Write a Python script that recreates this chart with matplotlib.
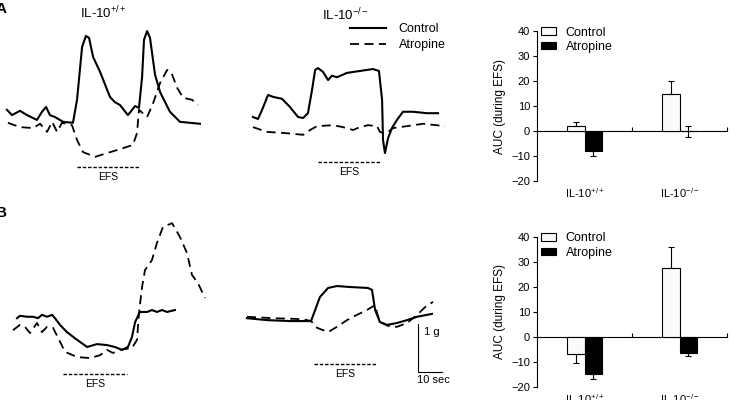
import numpy as np
import matplotlib
matplotlib.use('Agg')
import matplotlib.pyplot as plt
from matplotlib.lines import Line2D

plt.rcParams['font.family'] = ['Liberation Sans', 'DejaVu Sans']
plt.rcParams['mathtext.fontset'] = 'custom'
plt.rcParams['mathtext.rm'] = 'Liberation Sans'
plt.rcParams['mathtext.it'] = 'Liberation Sans:italic'

WT = r'IL-10$^{+/+}$'
KO = r'IL-10$^{-/-}$'

# ---- traces (time in s, tension in g) ----
a1_ctl_t = [2.9, 5.0, 8.3, 11.3, 15.4, 17.5, 19.2, 20.8, 22.9, 26.3, 30.4, 32.1, 34.2, 35.8, 37.1,
            38.8, 41.7, 45.8, 47.9, 50.0, 53.3, 56.3, 57.9, 59.2, 60.0, 61.3, 62.5, 64.6, 66.7,
            70.8, 75.0, 83.3]
a1_ctl_g = [1.67, 1.56, 1.65, 1.56, 1.46, 1.63, 1.73, 1.56, 1.52, 1.42, 1.40, 1.88, 2.98, 3.21, 3.17,
            2.77, 2.46, 1.94, 1.83, 1.77, 1.56, 1.75, 1.71, 2.35, 3.13, 3.31, 3.17, 2.40, 2.04,
            1.63, 1.42, 1.38]
a1_atr_t = [3.3, 8.3, 13.8, 16.7, 19.6, 21.7, 23.8, 25.8, 30.0, 32.1, 34.6, 39.6, 44.6, 50.0, 55.4,
            57.1, 57.9, 61.3, 63.8, 66.7, 69.6, 71.3, 73.8, 76.3, 80.0, 82.5]
a1_atr_g = [1.40, 1.31, 1.29, 1.38, 1.21, 1.42, 1.21, 1.40, 1.35, 1.04, 0.79, 0.69, 0.77, 0.85, 0.94,
            1.19, 1.67, 1.52, 1.81, 2.23, 2.50, 2.46, 2.13, 1.92, 1.88, 1.77]

a2_ctl_t = [5.4, 7.5, 9.2, 11.7, 13.8, 17.5, 20.8, 24.2, 26.3, 28.3, 30.0, 31.3, 32.5, 34.6, 36.7,
            38.3, 40.4, 44.6, 50.0, 55.4, 57.9, 59.2, 59.6, 60.4, 61.7, 63.3, 65.4, 67.9, 72.1,
            77.9, 82.5]
a2_ctl_g = [1.52, 1.48, 1.67, 1.98, 1.94, 1.90, 1.73, 1.52, 1.50, 1.60, 2.08, 2.50, 2.54, 2.46, 2.29,
            2.38, 2.35, 2.44, 2.48, 2.52, 2.48, 1.88, 1.04, 0.77, 1.08, 1.29, 1.46, 1.63, 1.63,
            1.60, 1.60]
a2_atr_t = [5.4, 11.3, 17.9, 26.3, 29.2, 32.1, 38.8, 42.9, 47.1, 50.0, 53.3, 57.1, 58.3, 59.6, 61.7,
            63.8, 69.6, 76.3, 85.4]
a2_atr_g = [1.31, 1.21, 1.19, 1.15, 1.25, 1.33, 1.35, 1.31, 1.25, 1.31, 1.35, 1.33, 1.21, 1.19, 1.21,
            1.29, 1.33, 1.38, 1.33]

b1_ctl_t = [7.1, 8.3, 11.3, 13.8, 15.8, 17.5, 19.6, 21.7, 22.9, 25.0, 27.9, 32.1, 36.3, 40.4, 44.6,
            47.9, 50.8, 53.3, 55.0, 56.3, 58.3, 61.3, 63.3, 65.4, 67.5, 69.6, 72.9]
b1_ctl_g = [1.60, 1.65, 1.63, 1.63, 1.60, 1.67, 1.63, 1.67, 1.60, 1.46, 1.31, 1.15, 1.00, 1.06, 1.04,
            1.00, 0.94, 1.00, 1.21, 1.52, 1.73, 1.73, 1.77, 1.73, 1.77, 1.73, 1.77]
b1_atr_t = [5.4, 8.3, 10.4, 12.5, 15.4, 17.5, 19.6, 22.1, 24.2, 27.1, 32.1, 37.5, 41.7, 44.6, 47.1,
            50.0, 55.0, 57.1, 57.9, 59.2, 60.4, 63.3, 65.4, 67.9, 71.7, 75.0, 77.9, 80.0, 82.5, 85.4]
b1_atr_g = [1.35, 1.46, 1.42, 1.29, 1.50, 1.31, 1.42, 1.40, 1.19, 0.90, 0.79, 0.77, 0.83, 0.94, 0.875,
            0.94, 0.98, 1.15, 1.71, 2.25, 2.60, 2.81, 3.17, 3.50, 3.58, 3.29, 2.96, 2.50, 2.33, 2.02]

b2_ctl_t = [2.9, 11.3, 20.8, 29.6, 31.3, 33.3, 36.7, 40.4, 45.8, 53.3, 55.0, 56.3, 58.3, 61.3, 65.4,
            69.6, 73.8, 80.0]
b2_ctl_g = [1.60, 1.56, 1.54, 1.54, 1.77, 2.04, 2.23, 2.27, 2.25, 2.23, 2.19, 1.77, 1.52, 1.46, 1.50,
            1.56, 1.63, 1.69]
b2_atr_t = [2.9, 13.8, 26.3, 29.6, 32.1, 36.7, 40.4, 44.6, 48.75, 52.9, 56.3, 57.1, 58.3, 61.7, 65.4,
            69.6, 73.8, 77.1, 80.4]
b2_atr_g = [1.63, 1.60, 1.58, 1.54, 1.40, 1.31, 1.42, 1.56, 1.67, 1.77, 1.875, 1.71, 1.52, 1.44, 1.42,
            1.50, 1.67, 1.83, 1.94]

# EFS stimulation window (s)
a1_efs = [32.1, 58.3]
a2_efs = [32.5, 58.3]
b1_efs = [26.3, 52.9]
b2_efs = [30.8, 57.1]

# ---- AUC bars ----
groups = [WT, KO]
a_ctrl, a_ctrl_sem = [2.1, 14.7], [1.5, 5.4]
a_atr, a_atr_sem = [-8.0, 0.0], [1.9, 2.2]
b_ctrl, b_ctrl_sem = [-7.1, 27.3], [3.6, 8.4]
b_atr, b_atr_sem = [-14.9, -6.4], [2.2, 1.3]

PX_S, PX_G = 2.4, 48.0   # pixels per second / per gram at 100 dpi

fig = plt.figure(figsize=(7.31, 4.0), dpi=100)


def trace_panel(x0, ytop, w, h, ctl_t, ctl_g, atr_t, atr_g, efs, efs_y):
    ax = fig.add_axes([x0 / 731, 1 - (ytop + h) / 400, w / 731, h / 400])
    ax.plot(ctl_t, ctl_g, color='k', lw=1.5, solid_joinstyle='round')
    ax.plot(atr_t, atr_g, color='k', lw=1.3, ls=(0, (5, 3)))
    ax.plot(efs, [efs_y, efs_y], color='k', lw=1.0, ls=(0, (2.5, 1.3)))
    ax.text(np.mean(efs), efs_y - 0.21, 'EFS', ha='center', va='center', fontsize=7.5)
    ax.set_xlim(0, w / PX_S)
    ax.set_ylim(0, h / PX_G)
    ax.set_axis_off()
    return ax


trace_panel(0, 20, 215, 170, a1_ctl_t, a1_ctl_g, a1_atr_t, a1_atr_g, a1_efs, 0.48)
ax_a2 = trace_panel(240, 20, 220, 170, a2_ctl_t, a2_ctl_g, a2_atr_t, a2_atr_g, a2_efs, 0.58)
trace_panel(0, 205, 215, 190, b1_ctl_t, b1_ctl_g, b1_atr_t, b1_atr_g, b1_efs, 0.44)
ax_b2 = trace_panel(240, 205, 220, 190, b2_ctl_t, b2_ctl_g, b2_atr_t, b2_atr_g, b2_efs, 0.65)

# scale bar: 10 sec x 1 g
sb_t, sb_g = 74.2, 0.48
ax_b2.plot([sb_t, sb_t, sb_t + 10], [sb_g + 1, sb_g, sb_g], color='k', lw=0.8)
ax_b2.text(sb_t + 2.3, sb_g + 0.83, '1 g', fontsize=8, va='center')
ax_b2.text(sb_t - 0.4, sb_g - 0.17, '10 sec', fontsize=8, va='center')

fig.text(0.141, 0.967, WT, ha='center', va='center', fontsize=9.5)
fig.text(0.472, 0.962, KO, ha='center', va='center', fontsize=9.5)
fig.text(-0.006, 0.995, 'A', fontsize=11, fontweight='bold', va='top')
fig.text(-0.006, 0.485, 'B', fontsize=11, fontweight='bold', va='top')

leg_handles = [Line2D([], [], color='k', lw=1.5), Line2D([], [], color='k', lw=1.3, ls=(0, (5, 3)))]
ax_a2.legend(leg_handles, ['Control', 'Atropine'], loc='upper left',
             bbox_to_anchor=(350 / 731, 1 - 23 / 400), bbox_transform=fig.transFigure,
             frameon=False, fontsize=9, handlelength=2.9, handletextpad=1.0,
             labelspacing=0.35, borderpad=0, borderaxespad=0)


def bar_panel(ybot, ctrl, ctrl_sem, atr, atr_sem):
    ax = fig.add_axes([537 / 731, 1 - ybot / 400, 190 / 731, 150 / 400])
    x = np.arange(len(groups)) + 0.5
    w = 0.18
    for vals, sems, off, fc, lab in [(ctrl, ctrl_sem, -w / 2, '#fafafa', 'Control'),
                                     (atr, atr_sem, w / 2, 'black', 'Atropine')]:
        vals = np.array(vals)
        sems = np.array(sems)
        lo = np.where(vals <= 0, sems, 0)
        hi = np.where(vals >= 0, sems, 0)
        ax.bar(x + off, vals, w, color=fc, edgecolor='k', lw=0.8, label=lab,
               yerr=[lo, hi], error_kw=dict(ecolor='k', elinewidth=0.8, capsize=2.5, capthick=0.8))
    ax.set_xlim(0, 2)
    ax.set_ylim(-20, 40)
    ax.set_yticks(np.arange(-20, 41, 10))
    ax.set_xticks(x, groups)
    ax.tick_params(axis='x', length=0, pad=4, labelsize=8)
    ax.tick_params(axis='y', length=3, width=0.8, pad=2, labelsize=8)
    for s in ['top', 'right', 'bottom']:
        ax.spines[s].set_visible(False)
    ax.spines['left'].set_linewidth(0.8)
    ax.set_ylabel('AUC (during EFS)', fontsize=8.5, labelpad=4)
    zero = ax.secondary_xaxis(1 / 3)
    zero.set_xticks([1, 2])
    zero.tick_params(direction='in', length=3, width=0.8, labelbottom=False, labeltop=False)
    for s in zero.spines.values():
        s.set_linewidth(0.8)
    ax.legend(loc='upper left', bbox_to_anchor=(0.02, 1.03), frameon=False, fontsize=9,
              handlelength=1.2, handleheight=0.55, handletextpad=0.8, labelspacing=0.2,
              borderpad=0, borderaxespad=0)
    return ax


bar_panel(181, a_ctrl, a_ctrl_sem, a_atr, a_atr_sem)
bar_panel(386.7, b_ctrl, b_ctrl_sem, b_atr, b_atr_sem)

fig.savefig('out.png', dpi=100)
